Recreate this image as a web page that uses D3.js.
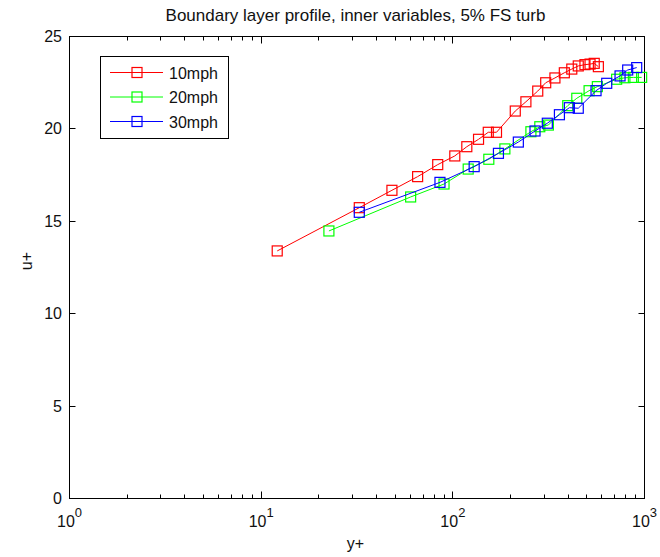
<!DOCTYPE html>
<html>
<head>
<meta charset="utf-8">
<script src="https://cdn.jsdelivr.net/npm/d3@7"></script>
<style>
  body { margin: 0; background: #fff; }
  text { font-family: "Liberation Sans", Arial, sans-serif; fill: #111; }
</style>
</head>
<body>
<script>
// data (y+, u+)
var yp10 = [12.2, 32.7, 48.4, 65.9, 83.9, 103, 119, 137, 154, 170, 213, 242, 279, 307, 343, 384, 420, 454, 492, 523, 550, 578];
var up10 = [13.37, 15.71, 16.65, 17.39, 18.04, 18.51, 19.01, 19.41, 19.79, 19.79, 20.94, 21.44, 22.02, 22.47, 22.73, 23.01, 23.21, 23.38, 23.45, 23.48, 23.52, 23.34];
var yp20 = [22.7, 60.6, 90.5, 121, 155, 188, 257, 286, 317, 400, 446, 517, 571, 720, 795, 880, 972];
var up20 = [14.45, 16.29, 16.99, 17.80, 18.33, 18.89, 19.82, 20.09, 20.18, 21.23, 21.63, 22.04, 22.26, 22.66, 22.74, 22.76, 22.76];
var yp30 = [32.7, 86.2, 130, 174, 221, 270, 313, 362, 408, 454, 562, 639, 750, 822, 916];
var up30 = [15.46, 17.08, 17.93, 18.65, 19.26, 19.86, 20.28, 20.74, 21.12, 21.09, 22.04, 22.44, 22.84, 23.16, 23.29];
var names = ["10mph", "20mph", "30mph"];
var colors = ["#ff0000", "#00ff00", "#0000ff"];
var yTicks = [0, 5, 10, 15, 20, 25];
var xDecades = [1, 10, 100, 1000];

var width = 660, height = 557;
var pL = 69, pR = 644, pT = 36, pB = 498;

var svg = d3.select("body").append("svg")
    .attr("width", width).attr("height", height);

var x = d3.scaleLog().domain([1, 1000]).range([pL, pR]);
var y = d3.scaleLinear().domain([0, 25]).range([pB, pT]);

// minor + major ticks on x
var minor = [];
for (var d = 1; d < 1000; d *= 10)
    for (var k = 2; k <= 9; k++) minor.push(d * k);

var g = svg.append("g");

function xTicks(yy, dir) {
    g.selectAll(null).data(minor).enter().append("line")
        .attr("x1", function(v) { return Math.round(x(v)) + 0.5; })
        .attr("x2", function(v) { return Math.round(x(v)) + 0.5; })
        .attr("y1", yy).attr("y2", yy + dir * 4)
        .attr("stroke", "#000");
    g.selectAll(null).data(xDecades).enter().append("line")
        .attr("x1", function(v) { return Math.round(x(v)) + 0.5; })
        .attr("x2", function(v) { return Math.round(x(v)) + 0.5; })
        .attr("y1", yy).attr("y2", yy + dir * 7)
        .attr("stroke", "#000");
}
xTicks(pB + 0.5, -1);
xTicks(pT + 0.5, 1);

function yTk(xx, dir) {
    g.selectAll(null).data(yTicks).enter().append("line")
        .attr("x1", xx).attr("x2", xx + dir * 6)
        .attr("y1", function(v) { return Math.round(y(v)) + 0.5; })
        .attr("y2", function(v) { return Math.round(y(v)) + 0.5; })
        .attr("stroke", "#000");
}
yTk(pL + 0.5, 1);
yTk(pR + 0.5, -1);

g.append("rect")
    .attr("x", pL + 0.5).attr("y", pT + 0.5)
    .attr("width", pR - pL).attr("height", pB - pT)
    .attr("fill", "none").attr("stroke", "#000").attr("stroke-width", 1);

// tick labels
svg.selectAll(null).data(yTicks).enter().append("text")
    .attr("x", pL - 7).attr("y", function(v) { return y(v) + 6; })
    .attr("text-anchor", "end").attr("font-size", 16)
    .text(function(v) { return v; });

var xl = svg.selectAll(null).data(xDecades).enter().append("text")
    .attr("x", function(v) { return x(v) - 12; }).attr("y", pB + 29)
    .attr("font-size", 16);
xl.append("tspan").text("10");
xl.append("tspan").attr("dy", -10).attr("font-size", 13)
    .text(function(v) { return Math.round(Math.log10(v)); });

svg.append("text").attr("x", (pL + pR) / 2 - 1).attr("y", pB + 51)
    .attr("text-anchor", "middle").attr("font-size", 16).text("y+");
svg.append("text").attr("transform", "translate(32," + 261 + ") rotate(-90)")
    .attr("text-anchor", "middle").attr("font-size", 16).text("u+");
svg.append("text").attr("x", (pL + pR) / 2 - 1).attr("y", 21)
    .attr("text-anchor", "middle").attr("font-size", 17)
    .text("Boundary layer profile, inner variables, 5% FS turb");

// series
var series = [
    d3.zip(yp10, up10),
    d3.zip(yp20, up20),
    d3.zip(yp30, up30)
];
var line = d3.line().x(function(p) { return x(p[0]); }).y(function(p) { return y(p[1]); });
var s = 10;
series.forEach(function(pts, i) {
    svg.append("path").attr("d", line(pts))
        .attr("fill", "none").attr("stroke", colors[i]).attr("stroke-width", 1);
    svg.selectAll(null).data(pts).enter().append("rect")
        .attr("x", function(p) { return x(p[0]) - s / 2; })
        .attr("y", function(p) { return y(p[1]) - s / 2; })
        .attr("width", s).attr("height", s)
        .attr("fill", "none").attr("stroke", colors[i]).attr("stroke-width", 1.2);
});

// legend
var lg = svg.append("g");
lg.append("rect").attr("x", 100.5).attr("y", 56.5).attr("width", 128).attr("height", 82)
    .attr("fill", "#fff").attr("stroke", "#000");
names.forEach(function(n, i) {
    var ly = 72.5 + i * 24.5;
    lg.append("line").attr("x1", 110).attr("x2", 163).attr("y1", ly).attr("y2", ly)
        .attr("stroke", colors[i]);
    lg.append("rect").attr("x", 137 - s / 2).attr("y", ly - s / 2).attr("width", s).attr("height", s)
        .attr("fill", "none").attr("stroke", colors[i]).attr("stroke-width", 1.2);
    lg.append("text").attr("x", 169).attr("y", ly + 6).attr("font-size", 16).text(n);
});
</script>
</body>
</html>
